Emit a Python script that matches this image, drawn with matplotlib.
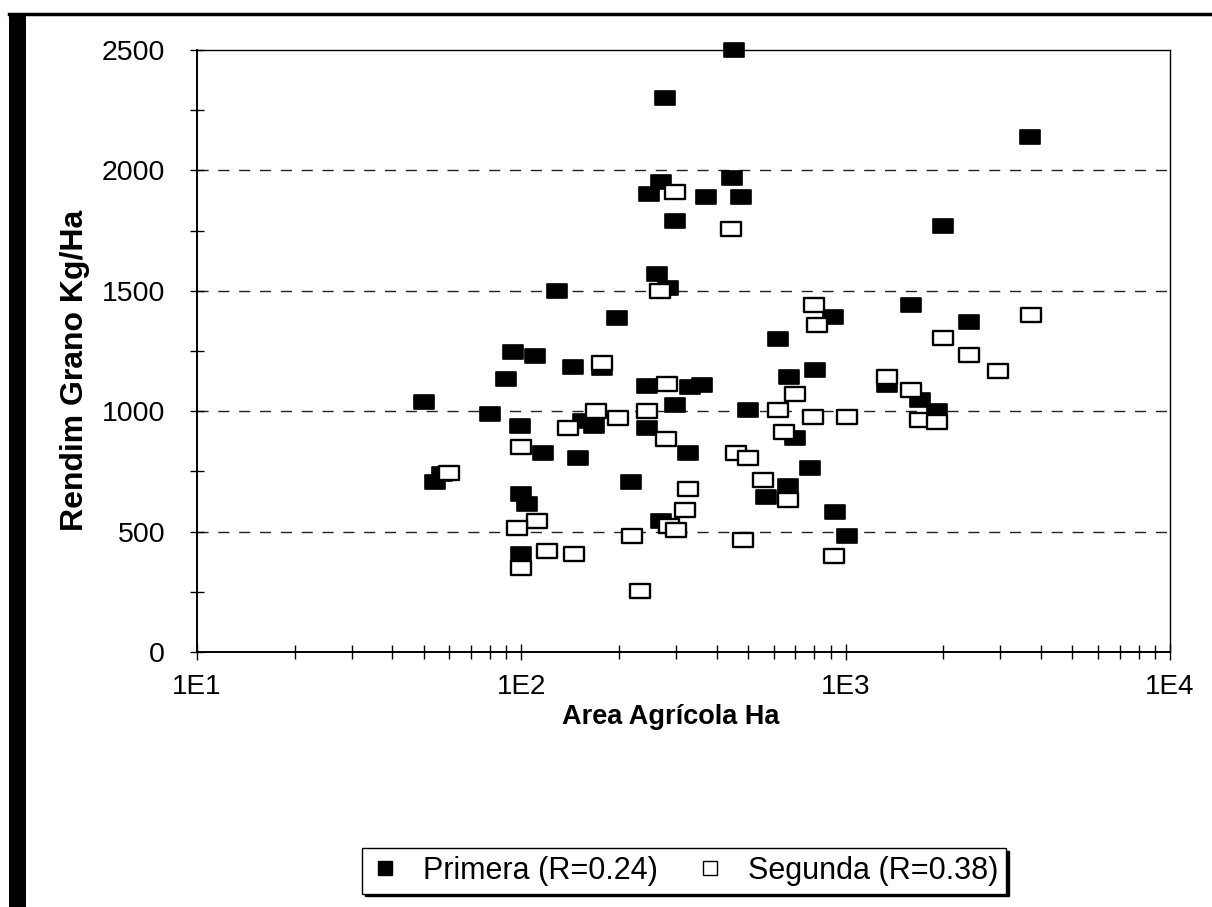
import numpy as np
import matplotlib
matplotlib.use("Agg")
import matplotlib.pyplot as plt
from matplotlib.path import Path
from matplotlib.ticker import FixedLocator, FuncFormatter, NullFormatter
from matplotlib.lines import Line2D
from matplotlib.patches import Rectangle

plt.rcParams['font.family'] = ['Liberation Sans', 'DejaVu Sans']

# Primera (R=0.24): area (ha), grain yield (kg/ha)
primera_area = [453, 277, 270, 248, 298, 262, 283, 129, 197, 94, 110, 144, 177, 90,
                244, 50, 80, 99, 155, 168, 298, 244, 117, 149, 57, 54, 218, 100, 104,
                270, 100, 446, 371, 476, 1592, 914, 619, 331, 361, 668, 805, 1343,
                1695, 1914, 500, 698, 327, 777, 664, 569, 927, 1009, 3707, 1996, 2400]
primera_yield = [2500, 2300, 1950, 1900, 1790, 1570, 1510, 1500, 1385, 1245, 1230, 1185,
                 1180, 1135, 1105, 1040, 990, 940, 960, 940, 1025, 930, 825, 805, 740,
                 705, 705, 655, 615, 545, 405, 1970, 1890, 1890, 1440, 1390, 1300, 1100,
                 1110, 1140, 1170, 1110, 1045, 1000, 1005, 890, 825, 765, 690, 645, 580,
                 480, 2140, 1770, 1370]

# Segunda (R=0.38)
segunda_area = [298, 444, 268, 800, 817, 177, 281, 698, 1343, 1592, 1690, 1914, 244, 170,
                139, 199, 619, 793, 1009, 279, 646, 100, 459, 500, 556, 664, 327, 320,
                285, 300, 483, 920, 233, 112, 97, 120, 145, 100, 219, 60, 3733, 1996,
                2400, 2951]
segunda_yield = [1910, 1755, 1500, 1440, 1360, 1200, 1115, 1070, 1140, 1090, 965, 955,
                 1000, 1000, 930, 970, 1005, 975, 975, 885, 915, 850, 825, 805, 715, 630,
                 675, 590, 525, 505, 465, 400, 255, 545, 515, 420, 405, 350, 480, 745,
                 1400, 1305, 1235, 1165]

series_labels = ['Primera (R=0.24)', 'Segunda (R=0.38)']
y_ticks = [0, 500, 1000, 1500, 2000, 2500]
x_ticks = [1e1, 1e2, 1e3, 1e4]

W, H = 1212, 907
fig = plt.figure(figsize=(W / 100, H / 100), dpi=100)
ax = fig.add_axes([197 / W, 1 - 652 / H, (1170 - 197) / W, (652 - 50) / H])

# slightly wide rectangular marker
rect = Path([(-1, -0.76), (1, -0.76), (1, 0.76), (-1, 0.76), (-1, -0.76)],
            [Path.MOVETO, Path.LINETO, Path.LINETO, Path.LINETO, Path.CLOSEPOLY])

ax.plot(primera_area, primera_yield, linestyle='none', marker=rect, markersize=14,
        markerfacecolor='black', markeredgecolor='black', markeredgewidth=1.2,
        label=series_labels[0], zorder=3, clip_on=False)
ax.plot(segunda_area, segunda_yield, linestyle='none', marker=rect, markersize=14,
        markerfacecolor='white', markeredgecolor='black', markeredgewidth=1.7,
        label=series_labels[1], zorder=3, clip_on=False)

ax.set_xscale('log')
ax.set_xlim(10, 10000)
ax.set_ylim(0, 2500)

ax.xaxis.set_major_locator(FixedLocator(x_ticks))
ax.xaxis.set_major_formatter(FuncFormatter(lambda v, p: '1E%d' % round(np.log10(v))))
ax.xaxis.set_minor_formatter(NullFormatter())
ax.set_yticks(y_ticks)
ax.set_yticks(np.arange(250, 2500, 500), minor=True)

ax.tick_params(axis='both', which='both', direction='inout', color='black', width=1)
ax.tick_params(axis='x', which='major', length=12, pad=10, labelsize=20)
ax.tick_params(axis='x', which='minor', length=10)
ax.tick_params(axis='y', which='major', length=10, pad=18, labelsize=20.5)
ax.tick_params(axis='y', which='minor', length=10)

for v in y_ticks[1:-1]:
    ax.axhline(v, color='#222222', linewidth=1.0, linestyle=(0, (8, 7)), zorder=1)

for s in ['left', 'bottom']:
    ax.spines[s].set_linewidth(1.4)
for s in ['top', 'right']:
    ax.spines[s].set_linewidth(1.0)

ax.set_xlabel('Area Agrícola Ha', fontsize=19.5, fontweight='bold')
ax.xaxis.label.set_verticalalignment('center')
ax.xaxis.set_label_coords(0.487, -0.108)
ax.set_ylabel('Rendim Grano Kg/Ha', fontsize=23, fontweight='bold')
ax.yaxis.label.set_verticalalignment('center')
ax.yaxis.label.set_horizontalalignment('center')
ax.yaxis.set_label_coords(-0.125, 0.468)

handles = [Line2D([], [], linestyle='none', marker='s', markersize=10,
                  markerfacecolor='black', markeredgecolor='black'),
           Line2D([], [], linestyle='none', marker='s', markersize=10,
                  markerfacecolor='white', markeredgecolor='black', markeredgewidth=1)]
leg = fig.legend(handles, series_labels, loc='center', bbox_to_anchor=(684 / W, 1 - 871 / H),
                 ncol=2, fontsize=22, frameon=True, fancybox=False,
                 shadow={'color': 'black', 'alpha': 1},
                 edgecolor='black', handlelength=1.0, handletextpad=0.75, columnspacing=1.2,
                 borderpad=0.25, borderaxespad=0)
leg.get_frame().set_linewidth(1.0)

# page border: heavy band on the left, rule along the top
fig.add_artist(Rectangle((9 / W, 0), 17 / W, 1 - 13 / H, transform=fig.transFigure,
                         facecolor='black', edgecolor='none'))
fig.add_artist(Line2D([9 / W, 1], [1 - 14 / H, 1 - 14 / H], transform=fig.transFigure,
                      color='black', linewidth=2.5))

fig.savefig('out.png', dpi=100)
